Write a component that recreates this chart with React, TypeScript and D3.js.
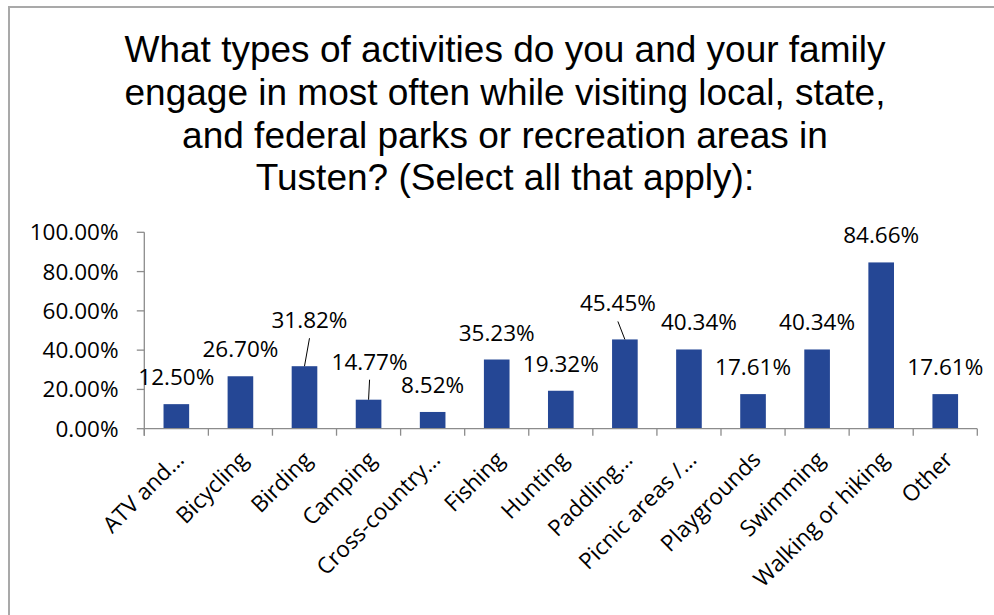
import React from "react";
import * as d3 from "d3";

const categories: string[] = [
  "ATV and…",
  "Bicycling",
  "Birding",
  "Camping",
  "Cross-country…",
  "Fishing",
  "Hunting",
  "Paddling…",
  "Picnic areas /…",
  "Playgrounds",
  "Swimming",
  "Walking or hiking",
  "Other",
];

const values: number[] = [
  0.125, 0.267, 0.3182, 0.1477, 0.0852, 0.3523, 0.1932, 0.4545, 0.4034, 0.1761,
  0.4034, 0.8466, 0.1761,
];

const yTicks: number[] = [0, 0.2, 0.4, 0.6, 0.8, 1.0];

const titleLines: string[] = [
  "What types of activities do you and your family",
  "engage in most often while visiting local, state,",
  "and federal parks or recreation areas in",
  "Tusten? (Select all that apply):",
];

// layout nudges for data labels that Excel displaced (dx, dy, leader line)
const labelNudges: Record<number, { dx: number; dy: number; leader: boolean }> = {
  2: { dx: 5, dy: -19, leader: true },
  3: { dx: 1, dy: -11, leader: true },
  7: { dx: -7, dy: -9, leader: true },
  8: { dx: 10, dy: 0, leader: false },
};

const W = 994;
const H = 615;
const plotLeft = 144.3;
const plotRight = 977.3;
const plotTop = 232.3;
const plotBottom = 428.7;

const labelFont = "'Open Sans', 'Noto Sans', sans-serif";
const titleFont = "'Liberation Sans', Arial, sans-serif";
const axisColor = "#8c8c8c";
const barColor = "#254795";

export default function App() {
  const x = d3
    .scaleBand<string>()
    .domain(categories)
    .range([plotLeft, plotRight])
    .paddingInner(0)
    .paddingOuter(0);
  const y = d3.scaleLinear().domain([0, 1]).range([plotBottom, plotTop]);
  const bw = x.bandwidth();
  const barW = bw * 0.4;
  const fmt = (v: number) => (v * 100).toFixed(2) + "%";

  const boundaries = d3.range(categories.length + 1).map((i) => plotLeft + i * bw);

  return (
    <svg
      width={W}
      height={H}
      style={{ position: "absolute", left: 0, top: 0, background: "#fff" }}
    >
      <rect x={0} y={0} width={W} height={H} fill="#fff" />
      {/* chart border */}
      <line x1={9} y1={7} x2={W} y2={7} stroke="#a9a9a9" strokeWidth={2} />
      <line x1={9} y1={6} x2={9} y2={H} stroke="#a9a9a9" strokeWidth={2} />

      {/* title */}
      <g fontFamily={titleFont} fontSize={37} fill="#000" textAnchor="middle">
        {titleLines.map((t, i) => (
          <text key={i} x={505} y={62 + i * 42.8}>
            {t}
          </text>
        ))}
      </g>

      {/* y axis */}
      <line x1={plotLeft} y1={plotTop} x2={plotLeft} y2={plotBottom + 7} stroke={axisColor} strokeWidth={1.3} />
      {yTicks.map((t) => (
        <g key={t}>
          <line x1={plotLeft - 7.5} x2={plotLeft} y1={y(t)} y2={y(t)} stroke={axisColor} strokeWidth={1.3} />
          <text
            x={118.5}
            y={y(t) + 8}
            textAnchor="end"
            fontFamily={labelFont}
            fontSize={22.5}
            fill="#000"
          >
            {fmt(t)}
          </text>
        </g>
      ))}

      {/* bars */}
      {categories.map((c, i) => (
        <rect
          key={c}
          x={(x(c) as number) + (bw - barW) / 2}
          y={y(values[i])}
          width={barW}
          height={plotBottom - y(values[i])}
          fill={barColor}
        />
      ))}

      {/* x axis */}
      <line x1={plotLeft} y1={plotBottom} x2={plotRight} y2={plotBottom} stroke={axisColor} strokeWidth={1.3} />
      {boundaries.map((bx, i) => (
        <line key={i} x1={bx} x2={bx} y1={plotBottom} y2={plotBottom + 7} stroke={axisColor} strokeWidth={1.3} />
      ))}

      {/* category labels */}
      {categories.map((c) => {
        const cx = (x(c) as number) + bw / 2;
        return (
          <text
            key={c}
            transform={`translate(${cx + 9},${461}) rotate(-45)`}
            textAnchor="end"
            fontFamily={labelFont}
            fontSize={22.5}
            fill="#000"
          >
            {c}
          </text>
        );
      })}

      {/* data labels */}
      {categories.map((c, i) => {
        const cx = (x(c) as number) + bw / 2;
        const top = y(values[i]);
        const n = labelNudges[i] || { dx: 0, dy: 0, leader: false };
        const lx = cx + n.dx;
        const ly = top - 19 + n.dy;
        return (
          <g key={c}>
            <text
              x={lx}
              y={ly}
              textAnchor="middle"
              fontFamily={labelFont}
              fontSize={22.5}
              fill="#000"
            >
              {fmt(values[i])}
            </text>
            {n.leader && (
              <line x1={lx} y1={ly + 10} x2={cx} y2={top} stroke="#000" strokeWidth={1} />
            )}
          </g>
        );
      })}
    </svg>
  );
}
